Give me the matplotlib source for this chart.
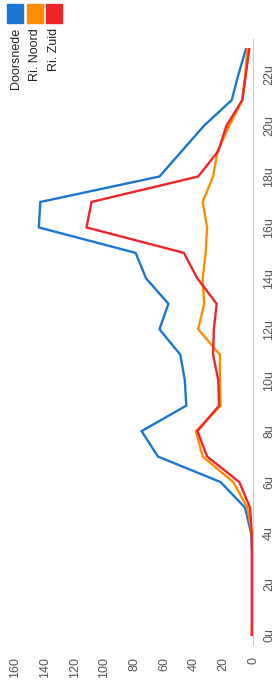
import matplotlib
matplotlib.use("Agg")
import matplotlib.pyplot as plt
from matplotlib.patches import Rectangle

plt.rcParams['font.family'] = ['Liberation Sans', 'DejaVu Sans']

hours = list(range(24))
hour_ticks = list(range(0, 24, 2))
hour_labels = ["%du" % h for h in hour_ticks]
value_ticks = [0, 20, 40, 60, 80, 100, 120, 140, 160]

series_names = ["Doorsnede", "Ri. Noord", "Ri. Zuid"]
colors = ["#1976D2", "#FF8C00", "#EE2529"]

doorsnede = [0.5, 0.5, 0.5, 0.5, 1.5, 5.6, 22, 64, 75, 45, 46, 49, 63, 57, 72, 79,
             144, 143, 63, 48, 33, 14.5, 10, 5]
noord = [1, 0.5, 0.5, 0.5, 1, 4, 13.5, 34, 38.5, 22, 22.4, 22.4, 37, 33, 34, 32,
         31, 34, 27, 24, 16, 7.4, 5.5, 4]
zuid = [1, 1, 1, 1, 1, 2.2, 9.4, 31, 37.5, 23, 23.5, 27, 26.5, 24.6, 37.6, 46.6,
        112, 108.6, 37, 23.5, 18, 7.4, 5, 2.7]

W, H = 274, 682
fig = plt.figure(figsize=(W / 100, H / 100), dpi=100)

# rotated chart: values run right->left, hours bottom->top
ax = fig.add_axes([15 / W, 1 - 645 / H, 238.3 / W, 606 / H])
for vals, c in zip([doorsnede, noord, zuid], colors):
    ax.plot(vals, hours, color=c, lw=1.7, solid_joinstyle="miter")

ax.set_xlim(160, 0)
ax.set_ylim(-0.4, 23.4)
for s in ["left", "top", "bottom"]:
    ax.spines[s].set_visible(False)
ax.spines["right"].set_color("#cccccc")
ax.yaxis.tick_right()
ax.set_yticks(hour_ticks)
ax.set_yticklabels(hour_labels, rotation=90, va="center", ha="left")
ax.set_xticks(value_ticks)
ax.set_xticklabels([str(v) for v in value_ticks], rotation=90, va="top", ha="center")
ax.tick_params(axis="y", length=0, pad=7, labelsize=9, labelcolor="#555555")
ax.tick_params(axis="x", length=0, pad=8.5, labelsize=9, labelcolor="#555555")

# legend: colour squares with rotated labels beneath
sq_x = [7.3, 26.7, 45.7]
for name, c, x in zip(series_names, colors, sq_x):
    fig.patches.append(Rectangle((x / W, 1 - 22.7 / H), 16 / W, 18.7 / H,
                                 transform=fig.transFigure, color=c))
    fig.text((x + 8.5) / W, 1 - 28 / H, name, rotation=90, ha="center", va="top",
             fontsize=9, color="#222222")

fig.savefig("out.png", dpi=100)
